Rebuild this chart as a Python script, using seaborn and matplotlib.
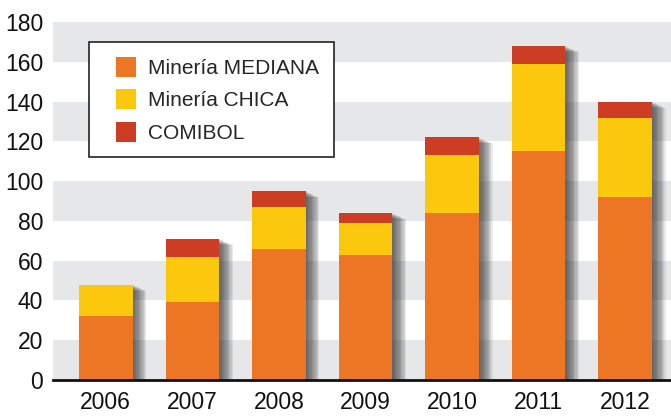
import matplotlib.pyplot as plt
import matplotlib.patheffects as pe
from matplotlib.patches import Rectangle
from matplotlib.legend_handler import HandlerPatch
import pandas as pd
import seaborn as sns

# Data
years = ['2006', '2007', '2008', '2009', '2010', '2011', '2012']
mediana = [32, 39, 66, 63, 84, 115, 92]
chica = [16, 23, 21, 16, 29, 44, 39.5]
comibol = [0, 9, 8, 5, 9, 9, 8.5]

labels = ['Minería MEDIANA', 'Minería CHICA', 'COMIBOL']
colors = ['#ED7625', '#FBC80E', '#CC3D24']

df = pd.DataFrame({'year': years, 'mediana': mediana, 'chica': chica, 'comibol': comibol})
df['mid'] = df['mediana'] + df['chica']
df['total'] = df['mid'] + df['comibol']

sns.set_style('white')
plt.rcParams['font.family'] = ['Liberation Sans', 'DejaVu Sans']

fig = plt.figure(figsize=(6.71, 4.17), dpi=100)
ax = fig.add_axes([0.079, 0.0887, 0.921, 0.8585])

# alternating grey bands
for lo in range(0, 180, 40):
    ax.axhspan(lo, lo + 20, color='#E6E7E8', lw=0, zorder=0)

# soft drop shadow faked with several offset copies
shadow = [pe.SimplePatchShadow(offset=(0.9 * d, -0.4 * d), shadow_rgbFace='#303030', alpha=0.1)
          for d in range(1, 12)] + [pe.Normal()]

# stacked bars drawn as overlapping cumulative bars
n_before = len(ax.patches)
sns.barplot(data=df, x='year', y='total', color=colors[2], width=0.62, saturation=1,
            linewidth=0, ax=ax, zorder=2, label=labels[2])
for p in ax.patches[n_before:]:
    p.set_path_effects(shadow)
sns.barplot(data=df, x='year', y='mid', color=colors[1], width=0.62, saturation=1,
            linewidth=0, ax=ax, zorder=3, label=labels[1])
sns.barplot(data=df, x='year', y='mediana', color=colors[0], width=0.62, saturation=1,
            linewidth=0, ax=ax, zorder=4, label=labels[0])

ax.set_ylim(0, 180)
ax.set_xlim(-0.61, 6.53)
ax.set_yticks(range(0, 181, 20))
ax.set_xlabel('')
ax.set_ylabel('')
ax.tick_params(axis='both', length=0, labelsize=16.5, colors='#111111')
ax.tick_params(axis='y', pad=7)
ax.tick_params(axis='x', pad=8)
for s in ['top', 'right', 'left']:
    ax.spines[s].set_visible(False)
ax.spines['bottom'].set_color('#111111')
ax.spines['bottom'].set_linewidth(2)
ax.spines['bottom'].set_zorder(6)


# square legend keys sitting at the right of the handle area
def square_key(legend, orig_handle, xdescent, ydescent, width, height, fontsize):
    return Rectangle((width - height - xdescent, -ydescent), height, height)


handles, labs = ax.get_legend_handles_labels()
keys = [handles[labs.index(l)][0] for l in labels]
leg = ax.legend(keys, labels, loc='upper left',
                bbox_to_anchor=(0.058, 0.944), borderaxespad=0, fontsize=15,
                handlelength=1.56, handleheight=1.1, handletextpad=0.58,
                labelspacing=0.55, borderpad=0.7, frameon=True, fancybox=False,
                edgecolor='#222222', framealpha=1,
                handler_map={Rectangle: HandlerPatch(patch_func=square_key)})
leg.get_frame().set_linewidth(1.2)
for h in leg.legend_handles:
    h.set_path_effects([])
leg.set_zorder(10)

fig.savefig('out.png', dpi=100)
